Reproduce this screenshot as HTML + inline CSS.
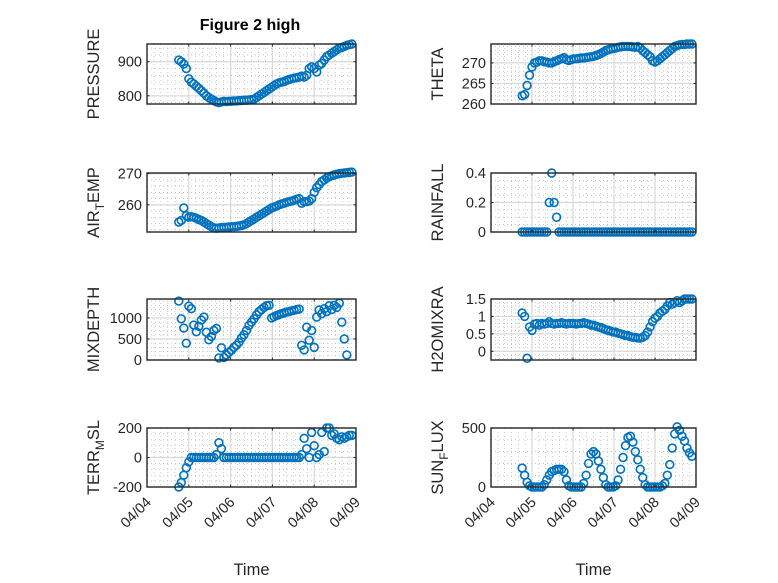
<!DOCTYPE html>
<html><head><meta charset="utf-8">
<style>
html,body{margin:0;padding:0;background:#fff;}
svg{display:block;font-family:"Liberation Sans","DejaVu Sans",sans-serif;}
</style></head>
<body>
<svg id="fig" width="778" height="583" viewBox="0 0 778 583" xmlns="http://www.w3.org/2000/svg">
<rect x="0" y="0" width="778" height="583" fill="#fff"/>
<text x="250" y="30" text-anchor="middle" font-size="16" font-weight="bold" fill="#000">Figure 2 high</text>
</svg>
<script>
// shared x-axis: days since 04/04 00:00
const xTickLabels = ["04/04","04/05","04/06","04/07","04/08","04/09"];
const sampleTimes = [];
for (let i = 0; i < 70; i++) sampleTimes.push(+(0.76 + 0.06 * i).toFixed(2));

const pressureValues = [905,900,893,880,850,840,835,828,822,815,
 808,800,795,790,786,782,780,782,784,783,
 784,784,785,785,786,786,787,787,788,789,
 790,795,800,805,810,815,820,825,830,835,
 838,840,842,845,848,850,852,853,855,858,
 855,860,880,885,880,870,890,895,905,915,
 920,925,930,935,940,942,945,948,950,952];
const thetaValues = [262,262.3,264.5,267,269,270,270.2,270.5,270.5,270.3,
 270.2,270,270,270.3,270.5,270.8,271,271.3,270.8,270.6,
 270.8,271,271,271.1,271.2,271.2,271.3,271.4,271.5,271.6,
 271.8,272,272.3,272.6,273,273.2,273.4,273.5,273.6,273.8,
 273.9,274,274,274,274,273.9,273.8,274,273.6,273,
 272.5,272,271.5,270.5,270.2,270.5,271,271.5,272,272.5,
 273,273.5,274,274.2,274.4,274.5,274.5,274.6,274.6,274.6];
const airTempValues = [254.5,255,259,256.5,256,256.2,256,255.7,255.3,255,
 254.5,254,253.5,253,252.6,252.5,252.6,252.7,252.8,252.8,
 252.9,253,253,253.1,253.2,253.4,253.6,254,254.5,255,
 255.5,256,256.5,257,257.5,258,258.5,259,259.3,259.6,
 260,260.3,260.5,260.8,261,261.2,261.5,261.8,262,260.5,
 261,261,261.2,262,264,265.5,266.5,267.5,268,268.6,
 269,269.3,269.6,269.8,270,270.1,270.2,270.3,270.4,270.5];
const rainfallValues = [0,0,0,0,0,0,0,0,0,0,
 0,0.2,0.4,0.2,0.1,0,0,0,0,0,
 0,0,0,0,0,0,0,0,0,0,
 0,0,0,0,0,0,0,0,0,0,
 0,0,0,0,0,0,0,0,0,0,
 0,0,0,0,0,0,0,0,0,0,
 0,0,0,0,0,0,0,0,0,0];
const mixDepthValues = [1400,980,760,400,1280,1220,830,670,800,950,
 1020,660,480,560,700,750,50,290,60,120,
 180,230,300,350,420,520,600,700,820,900,
 980,1070,1150,1200,1250,1290,1300,1000,1030,1060,
 1080,1100,1120,1140,1150,1170,1180,1200,1210,350,
 240,780,470,700,300,1020,1190,1100,1220,1150,
 1290,1200,1300,1250,1350,900,500,120,null,null];
const h2oValues = [1.1,1.0,-0.2,0.7,0.6,0.78,0.8,0.75,0.8,0.78,
 0.8,0.85,0.8,0.78,0.8,0.8,0.82,0.8,0.78,0.8,
 0.8,0.8,0.78,0.8,0.8,0.82,0.8,0.78,0.75,0.75,
 0.72,0.7,0.68,0.65,0.62,0.6,0.58,0.55,0.55,0.52,
 0.5,0.48,0.45,0.45,0.42,0.4,0.4,0.38,0.38,0.4,
 0.45,0.55,0.7,0.85,0.95,1.0,1.1,1.15,1.2,1.3,
 1.4,1.35,1.4,1.45,1.4,1.45,1.5,1.5,1.5,1.5];
const terrValues = [-200,-170,-120,-70,-30,0,0,0,0,0,
 0,0,0,0,0,20,100,60,0,0,
 0,0,0,0,0,0,0,0,0,0,
 0,0,0,0,0,0,0,0,0,0,
 0,0,0,0,0,0,0,0,0,20,
 130,60,0,170,80,0,20,170,40,200,
 200,150,160,130,120,140,130,140,150,150];
const sunValues = [160,100,40,10,0,0,0,0,0,20,
 60,100,130,140,150,150,150,130,60,10,
 0,0,0,0,0,30,100,200,280,300,
 280,220,150,80,20,0,0,0,10,60,
 150,250,350,420,430,380,300,230,150,80,
 20,0,0,0,0,0,0,10,30,100,
 190,330,450,510,480,430,390,330,290,260];

const pressureTicks = [800,900];
const thetaTicks = [260,265,270];
const airTicks = [260,270];
const rainTicks = [0,0.2,0.4];
const mixTicks = [0,500,1000];
const h2oTicks = [0,0.5,1,1.5];
const terrTicks = [-200,0,200];
const sunTicks = [0,500];

const svg = document.getElementById('fig');
const NS = 'http://www.w3.org/2000/svg';
function mk(tag, attrs, parent) {
  const e = document.createElementNS(NS, tag);
  for (const k in attrs) e.setAttribute(k, attrs[k]);
  (parent || svg).appendChild(e);
  return e;
}
const colL = {x0:147, x1:356}, colR = {x0:491, x1:696};
const rows = [{y0:44,y1:104},{y0:173,y1:232},{y0:299,y1:360},{y0:428,y1:487}];
const panels = [
 {key:'pressure', col:colL, row:0, lo:776, hi:952, ticks:pressureTicks, minor:20, vals:pressureValues, label:['PRESSURE']},
 {key:'theta', col:colR, row:0, lo:260, hi:274.6, ticks:thetaTicks, minor:1, vals:thetaValues, label:['THETA']},
 {key:'air-temp', col:colL, row:1, lo:251.3, hi:270.2, ticks:airTicks, minor:2, vals:airTempValues, label:['AIR','T','EMP']},
 {key:'rainfall', col:colR, row:1, lo:0, hi:0.4, ticks:rainTicks, minor:0.05, vals:rainfallValues, label:['RAINFALL']},
 {key:'mixdepth', col:colL, row:2, lo:0, hi:1450, ticks:mixTicks, minor:100, vals:mixDepthValues, label:['MIXDEPTH']},
 {key:'h2omixra', col:colR, row:2, lo:-0.25, hi:1.5, ticks:h2oTicks, minor:0.1, vals:h2oValues, label:['H2OMIXRA']},
 {key:'terr-msl', col:colL, row:3, lo:-200, hi:200, ticks:terrTicks, minor:40, vals:terrValues, label:['TERR','M','SL']},
 {key:'sun-flux', col:colR, row:3, lo:0, hi:500, ticks:sunTicks, minor:100, vals:sunValues, label:['SUN','F','LUX']}
];

panels.forEach(p => {
  const x0 = p.col.x0, x1 = p.col.x1, y0 = rows[p.row].y0, y1 = rows[p.row].y1;
  const xs = t => x0 + (x1 - x0) * t / 5;
  const ys = v => y1 - (y1 - y0) * (v - p.lo) / (p.hi - p.lo);
  const g = mk('g', {});
  
  
  mk('rect', {x:x0, y:y0, width:x1-x0, height:y1-y0, fill:'#fff'}, g);
  for (let d = 0; d < 5; d++) for (let k = 1; k < 6; k++) {
    const x = xs(d + k / 6);
    mk('line', {x1:x, x2:x, y1:y0, y2:y1, stroke:'#b0b0b0', 'stroke-width':0.7, 'stroke-dasharray':'1,3'}, g);
  }
  const mstart = Math.ceil(p.lo / p.minor - 1e-9);
  for (let k = mstart; k * p.minor <= p.hi + 1e-9; k++) {
    const v = k * p.minor;
    if (p.ticks.some(t => Math.abs(t - v) < 1e-9)) continue;
    const y = ys(v);
    mk('line', {x1:x0, x2:x1, y1:y, y2:y, stroke:'#b0b0b0', 'stroke-width':0.7, 'stroke-dasharray':'1,3'}, g);
  }
  for (let d = 1; d < 5; d++) {
    const x = xs(d);
    mk('line', {x1:x, x2:x, y1:y0, y2:y1, stroke:'#d8d8d8', 'stroke-width':1.2}, g);
  }
  p.ticks.forEach(v => {
    const y = ys(v);
    mk('line', {x1:x0, x2:x1, y1:y, y2:y, stroke:'#d8d8d8', 'stroke-width':1.2}, g);
  });
  const mg = mk('g', {});
  
  
  p.vals.forEach((v, i) => {
    if (v === null) return;
    const c = mk('circle', {cx:xs(sampleTimes[i]).toFixed(2), cy:ys(v).toFixed(2), r:3.9, fill:'none', stroke:'#0072BD', 'stroke-width':1.6}, mg);
    
    
  });
  mk('rect', {x:x0, y:y0, width:x1-x0, height:y1-y0, fill:'none', stroke:'#262626', 'stroke-width':1.4});
  for (let d = 0; d <= 5; d++) {
    const x = xs(d);
    mk('line', {x1:x, x2:x, y1:y1, y2:y1-2.5, stroke:'#262626', 'stroke-width':1});
    mk('line', {x1:x, x2:x, y1:y0, y2:y0+2.5, stroke:'#262626', 'stroke-width':1});
    if (p.row === 3) {
      const t = mk('text', {transform:'translate(' + (x + 5) + ',' + (y1 + 16) + ') rotate(-45)', 'text-anchor':'end', 'font-size':14.5, fill:'#262626'});
      
      
      t.textContent = xTickLabels[d];
    }
  }
  p.ticks.forEach(v => {
    const y = ys(v);
    mk('line', {x1:x0, x2:x0+2.5, y1:y, y2:y, stroke:'#262626', 'stroke-width':1});
    mk('line', {x1:x1, x2:x1-2.5, y1:y, y2:y, stroke:'#262626', 'stroke-width':1});
    const t = mk('text', {x:x0 - 5, y:y + 5, 'text-anchor':'end', 'font-size':14.5, fill:'#262626'});
    
    
    t.textContent = String(v);
  });
  const lx = p.col === colL ? 99 : 443;
  const lt = mk('text', {transform:'translate(' + lx + ',' + ((y0 + y1) / 2) + ') rotate(-90)', 'text-anchor':'middle', 'font-size':16.5, fill:'#262626'});
  
  
  if (p.label.length === 1) {
    lt.textContent = p.label[0];
  } else {
    const a = mk('tspan', {}, lt); a.textContent = p.label[0];
    const b = mk('tspan', {dy:5, 'font-size':12}, lt); b.textContent = p.label[1];
    const c = mk('tspan', {dy:-5}, lt); c.textContent = p.label[2];
  }
  if (p.row === 3) {
    const xl = mk('text', {x:(x0 + x1) / 2, y:575, 'text-anchor':'middle', 'font-size':16.5, fill:'#262626'});
    
    
    xl.textContent = 'Time';
  }
});
</script>
</body></html>
